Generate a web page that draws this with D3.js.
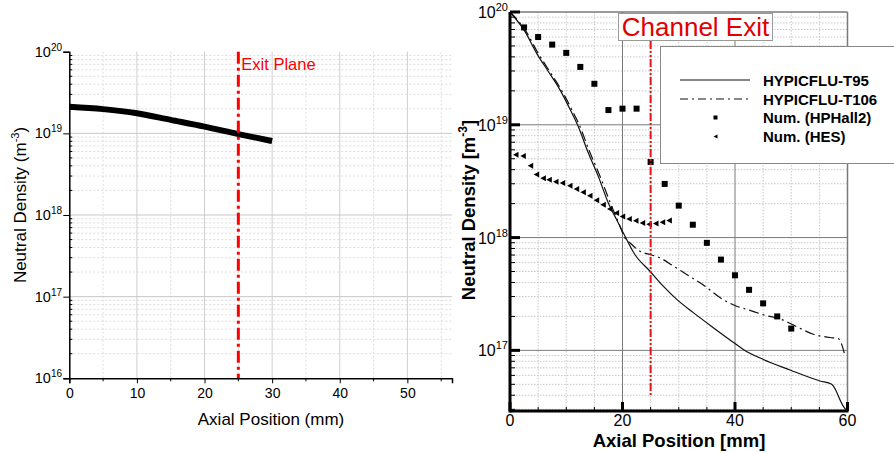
<!DOCTYPE html>
<html>
<head>
<meta charset="utf-8">
<script src="https://cdn.jsdelivr.net/npm/d3@7"></script>
<style>
  body { margin: 0; background: #fff; }
  svg { display: block; font-family: Arial, "Liberation Sans", sans-serif; }
</style>
</head>
<body>
<svg id="chart" width="894" height="453"></svg>
<script>
// ---- left panel: simulated neutral density ----
const leftPos = [0, 5, 10, 15, 20, 25, 30];
const leftDensity = [2.12e19, 1.98e19, 1.76e19, 1.46e19, 1.21e19, 9.8e18, 8.05e18];
const leftXTicks = [0, 10, 20, 30, 40, 50];
const leftDecades = [1e16, 1e17, 1e18, 1e19, 1e20];
const exitPlane = 25;

// ---- right panel: code comparison ----
const t95Pos = [0, 2.67, 4.74, 6.81, 8.89, 10.97, 12.0, 13.93, 15.7, 17.48, 18.96, 20.15, 22.2, 24.89, 27.25, 29.64, 32.59, 36.14, 40, 41.48, 45.03, 49.78, 55.11, 57.19, 59.25, 59.86];
const t95Density = [1e20, 6.7e19, 4.3e19, 2.97e19, 2.04e19, 1.28e19, 1.0e19, 5.62e18, 3.49e18, 2.03e18, 1.44e18, 1.1e18, 7.08e17, 5.03e17, 3.71e17, 2.83e17, 2.16e17, 1.59e17, 1.15e17, 1.02e17, 8.3e16, 6.7e16, 5.35e16, 5.0e16, 3.2e16, 2.9e16];

const t106Pos = [0, 2.8, 4.9, 7.0, 9.1, 11.2, 12.2, 14.2, 16.0, 17.8, 19.4, 20.4, 21.33, 23.11, 24.89, 26.67, 29.03, 31.41, 34.36, 37.5, 40, 42.67, 45.63, 48, 50.97, 53.92, 56.89, 58.37, 58.97, 59.56];
const t106Density = [1e20, 6.8e19, 4.4e19, 3.0e19, 2.05e19, 1.3e19, 1.03e19, 5.7e18, 3.5e18, 2.05e18, 1.32e18, 1.0e18, 8.98e17, 7.57e17, 7.08e17, 6.61e17, 5.6e17, 4.7e17, 3.8e17, 2.9e17, 2.5e17, 2.26e17, 2.03e17, 1.9e17, 1.62e17, 1.39e17, 1.3e17, 1.27e17, 1.13e17, 8.9e16];

const hphallPos = [2.5, 5, 7.5, 10, 12.5, 15, 17.5, 20, 22.5, 25, 27.5, 30, 32.5, 35, 37.5, 40, 42.5, 45, 47.5, 50];
const hphallDensity = [7.3e19, 6.0e19, 5.14e19, 4.34e19, 3.26e19, 2.31e19, 1.35e19, 1.39e19, 1.39e19, 4.68e18, 2.99e18, 1.92e18, 1.3e18, 8.98e17, 6.38e17, 4.63e17, 3.44e17, 2.61e17, 2.0e17, 1.56e17];

const hesPos = [1.07, 2.37, 3.68, 4.74, 5.93, 6.99, 8.18, 9.37, 10.67, 11.85, 13.04, 14.22, 15.41, 16.59, 17.78, 18.96, 20.03, 21.21, 22.4, 23.59, 24.77, 25.96, 27.14, 28.33];
const hesDensity = [5.43e18, 5.28e18, 4.34e18, 3.63e18, 3.35e18, 3.26e18, 3.13e18, 3.05e18, 2.88e18, 2.7e18, 2.52e18, 2.35e18, 2.14e18, 1.95e18, 1.79e18, 1.65e18, 1.54e18, 1.46e18, 1.41e18, 1.35e18, 1.31e18, 1.33e18, 1.37e18, 1.42e18];

const rightXTicks = [0, 20, 40, 60];
const rightDecades = [1e17, 1e18, 1e19, 1e20];
const legendNames = ["HYPICFLU-T95", "HYPICFLU-T106", "Num. (HPHall2)", "Num. (HES)"];
const channelExit = 25;

const svg = d3.select("#chart");

// minor log positions (2..9 per decade) inside a domain
function logMinors(domain) {
  const out = [];
  for (let e = Math.floor(Math.log10(domain[0])); e < Math.ceil(Math.log10(domain[1])); e++) {
    for (let k = 2; k <= 9; k++) {
      const v = k * Math.pow(10, e);
      if (v >= domain[0] && v <= domain[1]) out.push(v);
    }
  }
  return out;
}

function powLabel(sel, x, y, exp, size, supSize, supDy) {
  const t = sel.append("text").attr("x", x).attr("y", y)
    .attr("text-anchor", "end").attr("font-size", size).attr("fill", "#000");
  t.append("tspan").text("10");
  t.append("tspan").attr("font-size", supSize).attr("dy", supDy).text(exp);
  return t;
}

/* =========================== left panel =========================== */
const xL = d3.scaleLinear().domain([0, 56.6]).range([69.3, 452]);
const yL = d3.scaleLog().domain([1e16, 1e20]).range([378.3, 51.7]);
const gL = svg.append("g");

const xMinorL = d3.range(5, 56, 10);
gL.append("g").selectAll("line").data(xMinorL).join("line")
  .attr("x1", d => xL(d)).attr("x2", d => xL(d))
  .attr("y1", yL(1e20)).attr("y2", yL(1e16))
  .attr("stroke", "#dcdcdc").attr("stroke-dasharray", "2,2");
gL.append("g").selectAll("line").data(logMinors(yL.domain())).join("line")
  .attr("x1", xL(0)).attr("x2", xL(56.6))
  .attr("y1", d => yL(d)).attr("y2", d => yL(d))
  .attr("stroke", "#dcdcdc").attr("stroke-dasharray", "2,2");
gL.append("g").selectAll("line").data(leftXTicks.slice(1)).join("line")
  .attr("x1", d => xL(d)).attr("x2", d => xL(d))
  .attr("y1", yL(1e20)).attr("y2", yL(1e16))
  .attr("stroke", "#cfcfcf");
gL.append("g").selectAll("line").data(leftDecades.slice(1, 4)).join("line")
  .attr("x1", xL(0)).attr("x2", xL(56.6))
  .attr("y1", d => yL(d)).attr("y2", d => yL(d))
  .attr("stroke", "#c8c8c8");

// density profile
gL.append("path")
  .datum(leftPos.map((p, i) => [p, leftDensity[i]]))
  .attr("fill", "none").attr("stroke", "#000").attr("stroke-width", 6)
  .attr("d", d3.line().x(d => xL(d[0])).y(d => yL(d[1])).curve(d3.curveMonotoneX));

// exit plane marker
gL.append("line")
  .attr("x1", xL(exitPlane)).attr("x2", xL(exitPlane))
  .attr("y1", yL(1e20)).attr("y2", yL(1e16))
  .attr("stroke", "#ff0000").attr("stroke-width", 3)
  .attr("stroke-dasharray", "12,4,3,4");
gL.append("text").attr("x", xL(exitPlane) + 3).attr("y", 70)
  .attr("font-size", 16.5).attr("fill", "#ff0000").text("Exit Plane");

// axes
const axL = gL.append("g").attr("transform", `translate(0,${yL(1e16)})`)
  .call(d3.axisBottom(xL).tickValues(leftXTicks).tickSize(5).tickPadding(5).tickFormat(d3.format("d")));
axL.select(".domain").attr("stroke-width", 1.5);
axL.selectAll("text").attr("font-size", 14).attr("font-family", "Arial, 'Liberation Sans', sans-serif");
gL.append("g").selectAll("line").data(xMinorL).join("line")
  .attr("x1", d => xL(d)).attr("x2", d => xL(d))
  .attr("y1", yL(1e16)).attr("y2", yL(1e16) + 3).attr("stroke", "#000");

const ayL = gL.append("g").attr("transform", `translate(${xL(0)},0)`)
  .call(d3.axisLeft(yL).tickValues(leftDecades).tickSize(6).tickFormat(""));
ayL.select(".domain").attr("stroke-width", 1.5);
gL.append("g").selectAll("line").data(logMinors(yL.domain())).join("line")
  .attr("x1", xL(0)).attr("x2", xL(0) + 3)
  .attr("y1", d => yL(d)).attr("y2", d => yL(d)).attr("stroke", "#000");
leftDecades.forEach(d => powLabel(gL, 62, yL(d) + 5, Math.log10(d), 14.5, 10, -6));

gL.append("text").attr("x", 271).attr("y", 425).attr("text-anchor", "middle")
  .attr("font-size", 17).text("Axial Position (mm)");
const ytL = gL.append("text").attr("transform", "translate(26,205) rotate(-90)")
  .attr("text-anchor", "middle").attr("font-size", 17);
ytL.append("tspan").text("Neutral Density (m");
ytL.append("tspan").attr("font-size", 11).attr("dy", -7).text("-3");
ytL.append("tspan").attr("dy", 7).text(")");

/* =========================== right panel =========================== */
const xR = d3.scaleLinear().domain([0, 60]).range([510, 847.5]);
const yR = d3.scaleLog().domain([2.9e16, 1e20]).range([411, 12]);
const gR = svg.append("g");

const xMinorR = d3.range(5, 60, 5).filter(v => v % 20 !== 0);
gR.append("g").selectAll("line").data(xMinorR).join("line")
  .attr("x1", d => xR(d)).attr("x2", d => xR(d))
  .attr("y1", yR(1e20)).attr("y2", yR(2.9e16))
  .attr("stroke", "#c8c8c8").attr("stroke-dasharray", "1.5,1.5");
gR.append("g").selectAll("line").data(logMinors(yR.domain())).join("line")
  .attr("x1", xR(0)).attr("x2", xR(60))
  .attr("y1", d => yR(d)).attr("y2", d => yR(d))
  .attr("stroke", "#c8c8c8").attr("stroke-dasharray", "1.5,1.5");
gR.append("g").selectAll("line").data([20, 40, 60]).join("line")
  .attr("x1", d => xR(d)).attr("x2", d => xR(d))
  .attr("y1", yR(1e20)).attr("y2", yR(2.9e16))
  .attr("stroke", "#7a7a7a").attr("stroke-width", d => d === 60 ? 1.5 : 1);
gR.append("g").selectAll("line").data(rightDecades).join("line")
  .attr("x1", xR(0)).attr("x2", xR(60))
  .attr("y1", d => yR(d)).attr("y2", d => yR(d))
  .attr("stroke", "#7a7a7a").attr("stroke-width", d => d === 1e20 ? 1.5 : 1);

const lineR = d3.line().x(d => xR(d[0])).y(d => yR(d[1])).curve(d3.curveMonotoneX);
gR.append("path")
  .datum(t95Pos.map((p, i) => [p, t95Density[i]]))
  .attr("fill", "none").attr("stroke", "#111").attr("stroke-width", 1.2)
  .attr("d", lineR);
gR.append("path")
  .datum(t106Pos.map((p, i) => [p, t106Density[i]]))
  .attr("fill", "none").attr("stroke", "#111").attr("stroke-width", 1.2)
  .attr("stroke-dasharray", "10,4,2,4")
  .attr("d", lineR);

// HPHall2 squares
gR.append("g").selectAll("rect").data(hphallPos.map((p, i) => [p, hphallDensity[i]])).join("rect")
  .attr("x", d => xR(d[0]) - 3).attr("y", d => yR(d[1]) - 3)
  .attr("width", 6).attr("height", 6).attr("fill", "#000");

// HES left-pointing triangles
const tri = "M-3,0L2.5,-3L2.5,3Z";
gR.append("g").selectAll("path").data(hesPos.map((p, i) => [p, hesDensity[i]])).join("path")
  .attr("transform", d => `translate(${xR(d[0])},${yR(d[1])})`)
  .attr("d", tri).attr("fill", "#000");

// channel exit
gR.append("line")
  .attr("x1", xR(channelExit)).attr("x2", xR(channelExit))
  .attr("y1", 41).attr("y2", 395)
  .attr("stroke", "#e8101a").attr("stroke-width", 2)
  .attr("stroke-dasharray", "8,2,2,2,2,2");
gR.append("rect").attr("x", 618.5).attr("y", 13.5).attr("width", 154).attr("height", 27)
  .attr("fill", "#fff").attr("stroke", "#999");
gR.append("text").attr("x", 695.5).attr("y", 36).attr("text-anchor", "middle")
  .attr("font-size", 26).attr("fill", "#e00000").text("Channel Exit");

// legend
gR.append("rect").attr("x", 660.5).attr("y", 46.5).attr("width", 250).attr("height", 117)
  .attr("fill", "#fff").attr("stroke", "#888");
const legRows = [80, 99, 117.5, 136.5];
gR.append("line").attr("x1", 680).attr("x2", 750).attr("y1", legRows[0]).attr("y2", legRows[0])
  .attr("stroke", "#111").attr("stroke-width", 1.2);
gR.append("line").attr("x1", 680).attr("x2", 750).attr("y1", legRows[1]).attr("y2", legRows[1])
  .attr("stroke", "#111").attr("stroke-width", 1.2).attr("stroke-dasharray", "8,4,2,4");
gR.append("rect").attr("x", 713.5).attr("y", legRows[2] - 2).attr("width", 4).attr("height", 4).attr("fill", "#000");
gR.append("path").attr("transform", `translate(715.5,${legRows[3]})`).attr("d", "M-2,0L2,-2L2,2Z").attr("fill", "#000");
gR.append("g").selectAll("text").data(legendNames).join("text")
  .attr("x", 763).attr("y", (d, i) => legRows[i] + 5.5)
  .attr("font-size", 15).attr("font-weight", "bold").text(d => d);

// axes: thick frame lines with inward ticks
gR.append("line").attr("x1", xR(0)).attr("x2", xR(0)).attr("y1", yR(1e20)).attr("y2", yR(2.9e16) + 1.5)
  .attr("stroke", "#000").attr("stroke-width", 3);
gR.append("line").attr("x1", xR(0)).attr("x2", xR(60) + 1).attr("y1", yR(2.9e16)).attr("y2", yR(2.9e16))
  .attr("stroke", "#000").attr("stroke-width", 3);
gR.append("g").selectAll("line").data(rightDecades).join("line")
  .attr("x1", xR(0)).attr("x2", xR(0) + 10)
  .attr("y1", d => yR(d)).attr("y2", d => yR(d))
  .attr("stroke", "#000").attr("stroke-width", 3);
gR.append("g").selectAll("line").data(logMinors(yR.domain())).join("line")
  .attr("x1", xR(0)).attr("x2", xR(0) + 5)
  .attr("y1", d => yR(d)).attr("y2", d => yR(d))
  .attr("stroke", "#000").attr("stroke-width", 1);
gR.append("g").selectAll("line").data(rightXTicks).join("line")
  .attr("x1", d => xR(d)).attr("x2", d => xR(d))
  .attr("y1", yR(2.9e16)).attr("y2", yR(2.9e16) - 9)
  .attr("stroke", "#000").attr("stroke-width", 3);
gR.append("g").selectAll("line").data(xMinorR).join("line")
  .attr("x1", d => xR(d)).attr("x2", d => xR(d))
  .attr("y1", yR(2.9e16)).attr("y2", yR(2.9e16) - 4)
  .attr("stroke", "#000").attr("stroke-width", 1);

gR.append("g").selectAll("text").data(rightXTicks).join("text")
  .attr("x", d => xR(d)).attr("y", 426).attr("text-anchor", "middle")
  .attr("font-size", 16).text(d => d);
rightDecades.forEach(d => powLabel(gR, 508, yR(d) + 6, Math.log10(d), 16, 11, -7));

gR.append("text").attr("x", 679).attr("y", 446.5).attr("text-anchor", "middle")
  .attr("font-size", 18.5).attr("font-weight", "bold").text("Axial Position [mm]");
const ytR = gR.append("text").attr("transform", "translate(475,210) rotate(-90)")
  .attr("text-anchor", "middle").attr("font-size", 18.5).attr("font-weight", "bold");
ytR.append("tspan").text("Neutral Density [m");
ytR.append("tspan").attr("font-size", 12).attr("dy", -8).text("-3");
ytR.append("tspan").attr("dy", 8).text("]");
</script>
</body>
</html>
